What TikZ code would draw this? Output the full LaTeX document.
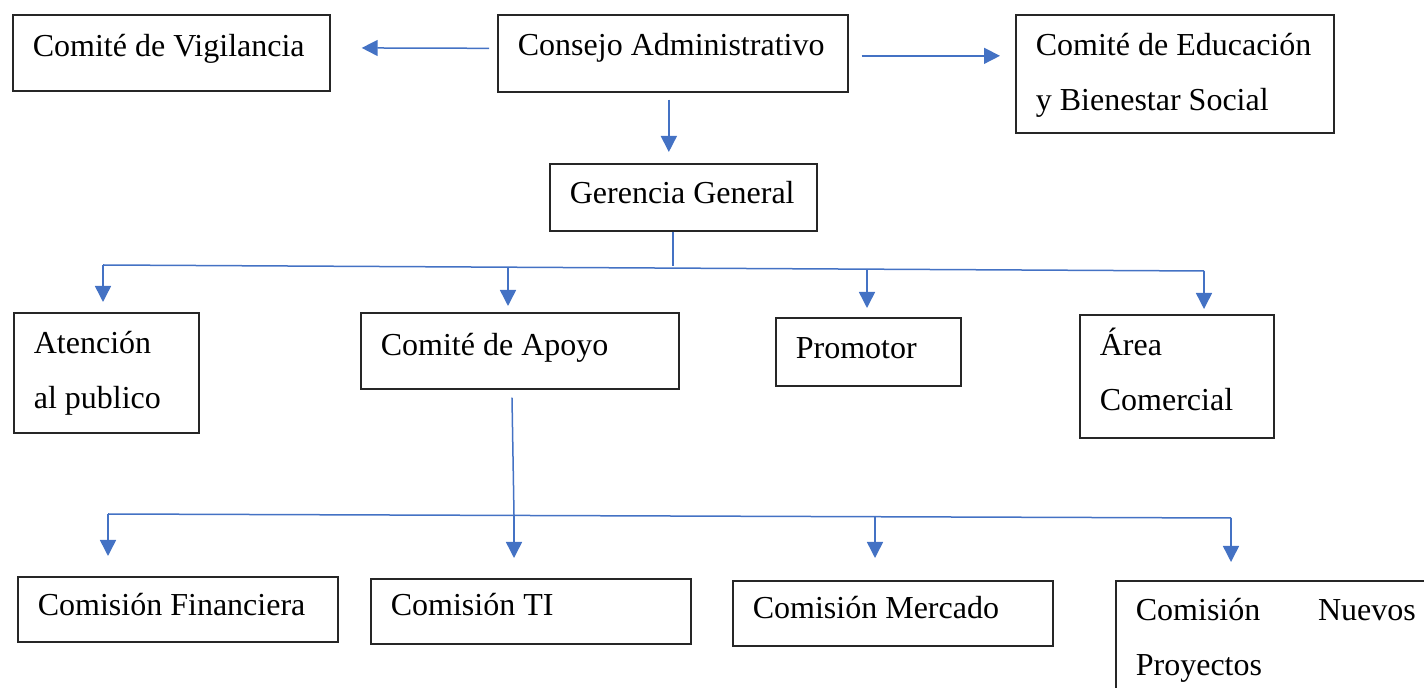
\documentclass[tikz,border=0pt]{standalone}
\usepackage{fontspec}
\setmainfont{Liberation Serif}
\usetikzlibrary{arrows.meta}
\definecolor{azul}{HTML}{4472C4}

\begin{document}
\begin{tikzpicture}[
        x=0.5pt, y=-0.5pt,
        caja/.style={draw=black!85, line width=0.85pt, anchor=north west, align=left,
            inner xsep=10pt, inner ysep=0pt,
            font=\fontsize{16pt}{27.5pt}\selectfont,
            execute at begin node={\spaceskip=0pt\xspaceskip=0pt\hyphenpenalty=10000\relax}},
        linea/.style={draw=azul, line width=0.75pt},
        flecha/.style={linea, -{Triangle[length=8pt,width=8pt]}}
    ]
        % Page size; the last box is cut at the edge
        \useasboundingbox (0,0) rectangle (1424,688);
        \clip (0,0) rectangle (1424,688);

        % Top row
        \node[caja, text width=138.5pt, text height=20.75pt, text depth=17.25pt] (vigilancia) at (12,14) {Comité de Vigilancia};
        \node[caja, text width=155pt, text height=20.5pt, text depth=18pt] (consejo) at (497,14) {Consejo Administrativo};
        \node[caja, text width=139pt, text height=20.5pt, text depth=38.5pt] (educacion) at (1015,14) {Comité de Educación\\y Bienestar Social};

        % Management
        \node[caja, text width=113.5pt, text height=20pt, text depth=13.5pt] (gerencia) at (549,163) {Gerencia General};

        % Second row
        \node[caja, text width=72.5pt, text height=20.5pt, text depth=39.5pt] (atencion) at (13,312) {Atención\\al publico};
        \node[caja, text width=139pt, text height=21.5pt, text depth=16.5pt] (apoyo) at (360,312) {Comité de Apoyo};
        \node[caja, text width=72.5pt, text height=20.5pt, text depth=13.5pt] (promotor) at (775,317) {Promotor};
        \node[caja, text width=77pt, text height=20.5pt, text depth=41pt] (comercial) at (1079,314) {Área\\Comercial};

        % Commissions
        \node[caja, text width=140pt, text height=19.5pt, text depth=13.25pt] (financiera) at (17,576) {Comisión Financiera};
        \node[caja, text width=140pt, text height=18.5pt, text depth=14pt] (ti) at (370,578) {Comisión TI};
        \node[caja, text width=140pt, text height=19pt, text depth=13.5pt] (mercado) at (732,580) {Comisión Mercado};
        \node[caja, text width=140pt, text height=20pt, text depth=60pt] (nuevos) at (1115,580) {Comisión\hfill Nuevos\\Proyectos};

        % Junctions on the two bus lines
        \coordinate (g1)  at (673,266);
        \coordinate (r1a) at (103,265);
        \coordinate (r1b) at (508,267);
        \coordinate (r1c) at (867,269);
        \coordinate (r1d) at (1204,271);
        \coordinate (a1)  at (514,515);
        \coordinate (r2a) at (108,514);
        \coordinate (r2c) at (875,516);
        \coordinate (r2d) at (1231,518);

        % Arrows out of the council
        \draw[flecha, shorten <=4pt, shorten >=15.5pt] ([yshift=2.5pt]consejo.west) -- ([yshift=2.5pt]vigilancia.east);
        \draw[flecha, shorten <=6.5pt, shorten >=7.5pt] ([yshift=-1.25pt]consejo.east) -- ([yshift=9pt]educacion.west);
        \draw[flecha, shorten <=3.5pt, shorten >=5.5pt] ([xshift=-2pt]consejo.south) -- ([xshift=-7.25pt]gerencia.north);

        % First bus under the management
        \draw[linea] (gerencia.south -| g1) -- (g1);
        \draw[linea] (r1a) -- (r1d);
        \draw[flecha, shorten >=5pt]   (r1a) -- (r1a |- atencion.north);
        \draw[flecha, shorten >=3pt]   (r1b) -- (r1b |- apoyo.north);
        \draw[flecha, shorten >=4.5pt] (r1c) -- (r1c |- promotor.north);
        \draw[flecha, shorten >=2.5pt] (r1d) -- (r1d |- comercial.north);

        % Second bus under the support committee
        \draw[linea, shorten <=4pt] ([xshift=-4pt]apoyo.south) -- (a1);
        \draw[linea] (r2a) -- (r2d);
        \draw[flecha, shorten >=10pt]  (r2a) -- (r2a |- financiera.north);
        \draw[flecha, shorten >=10pt]  (a1)  -- (a1 |- ti.north);
        \draw[flecha, shorten >=11pt]  (r2c) -- (r2c |- mercado.north);
        \draw[flecha, shorten >=9pt]   (r2d) -- (r2d |- nuevos.north);

    \end{tikzpicture}
\end{document}
